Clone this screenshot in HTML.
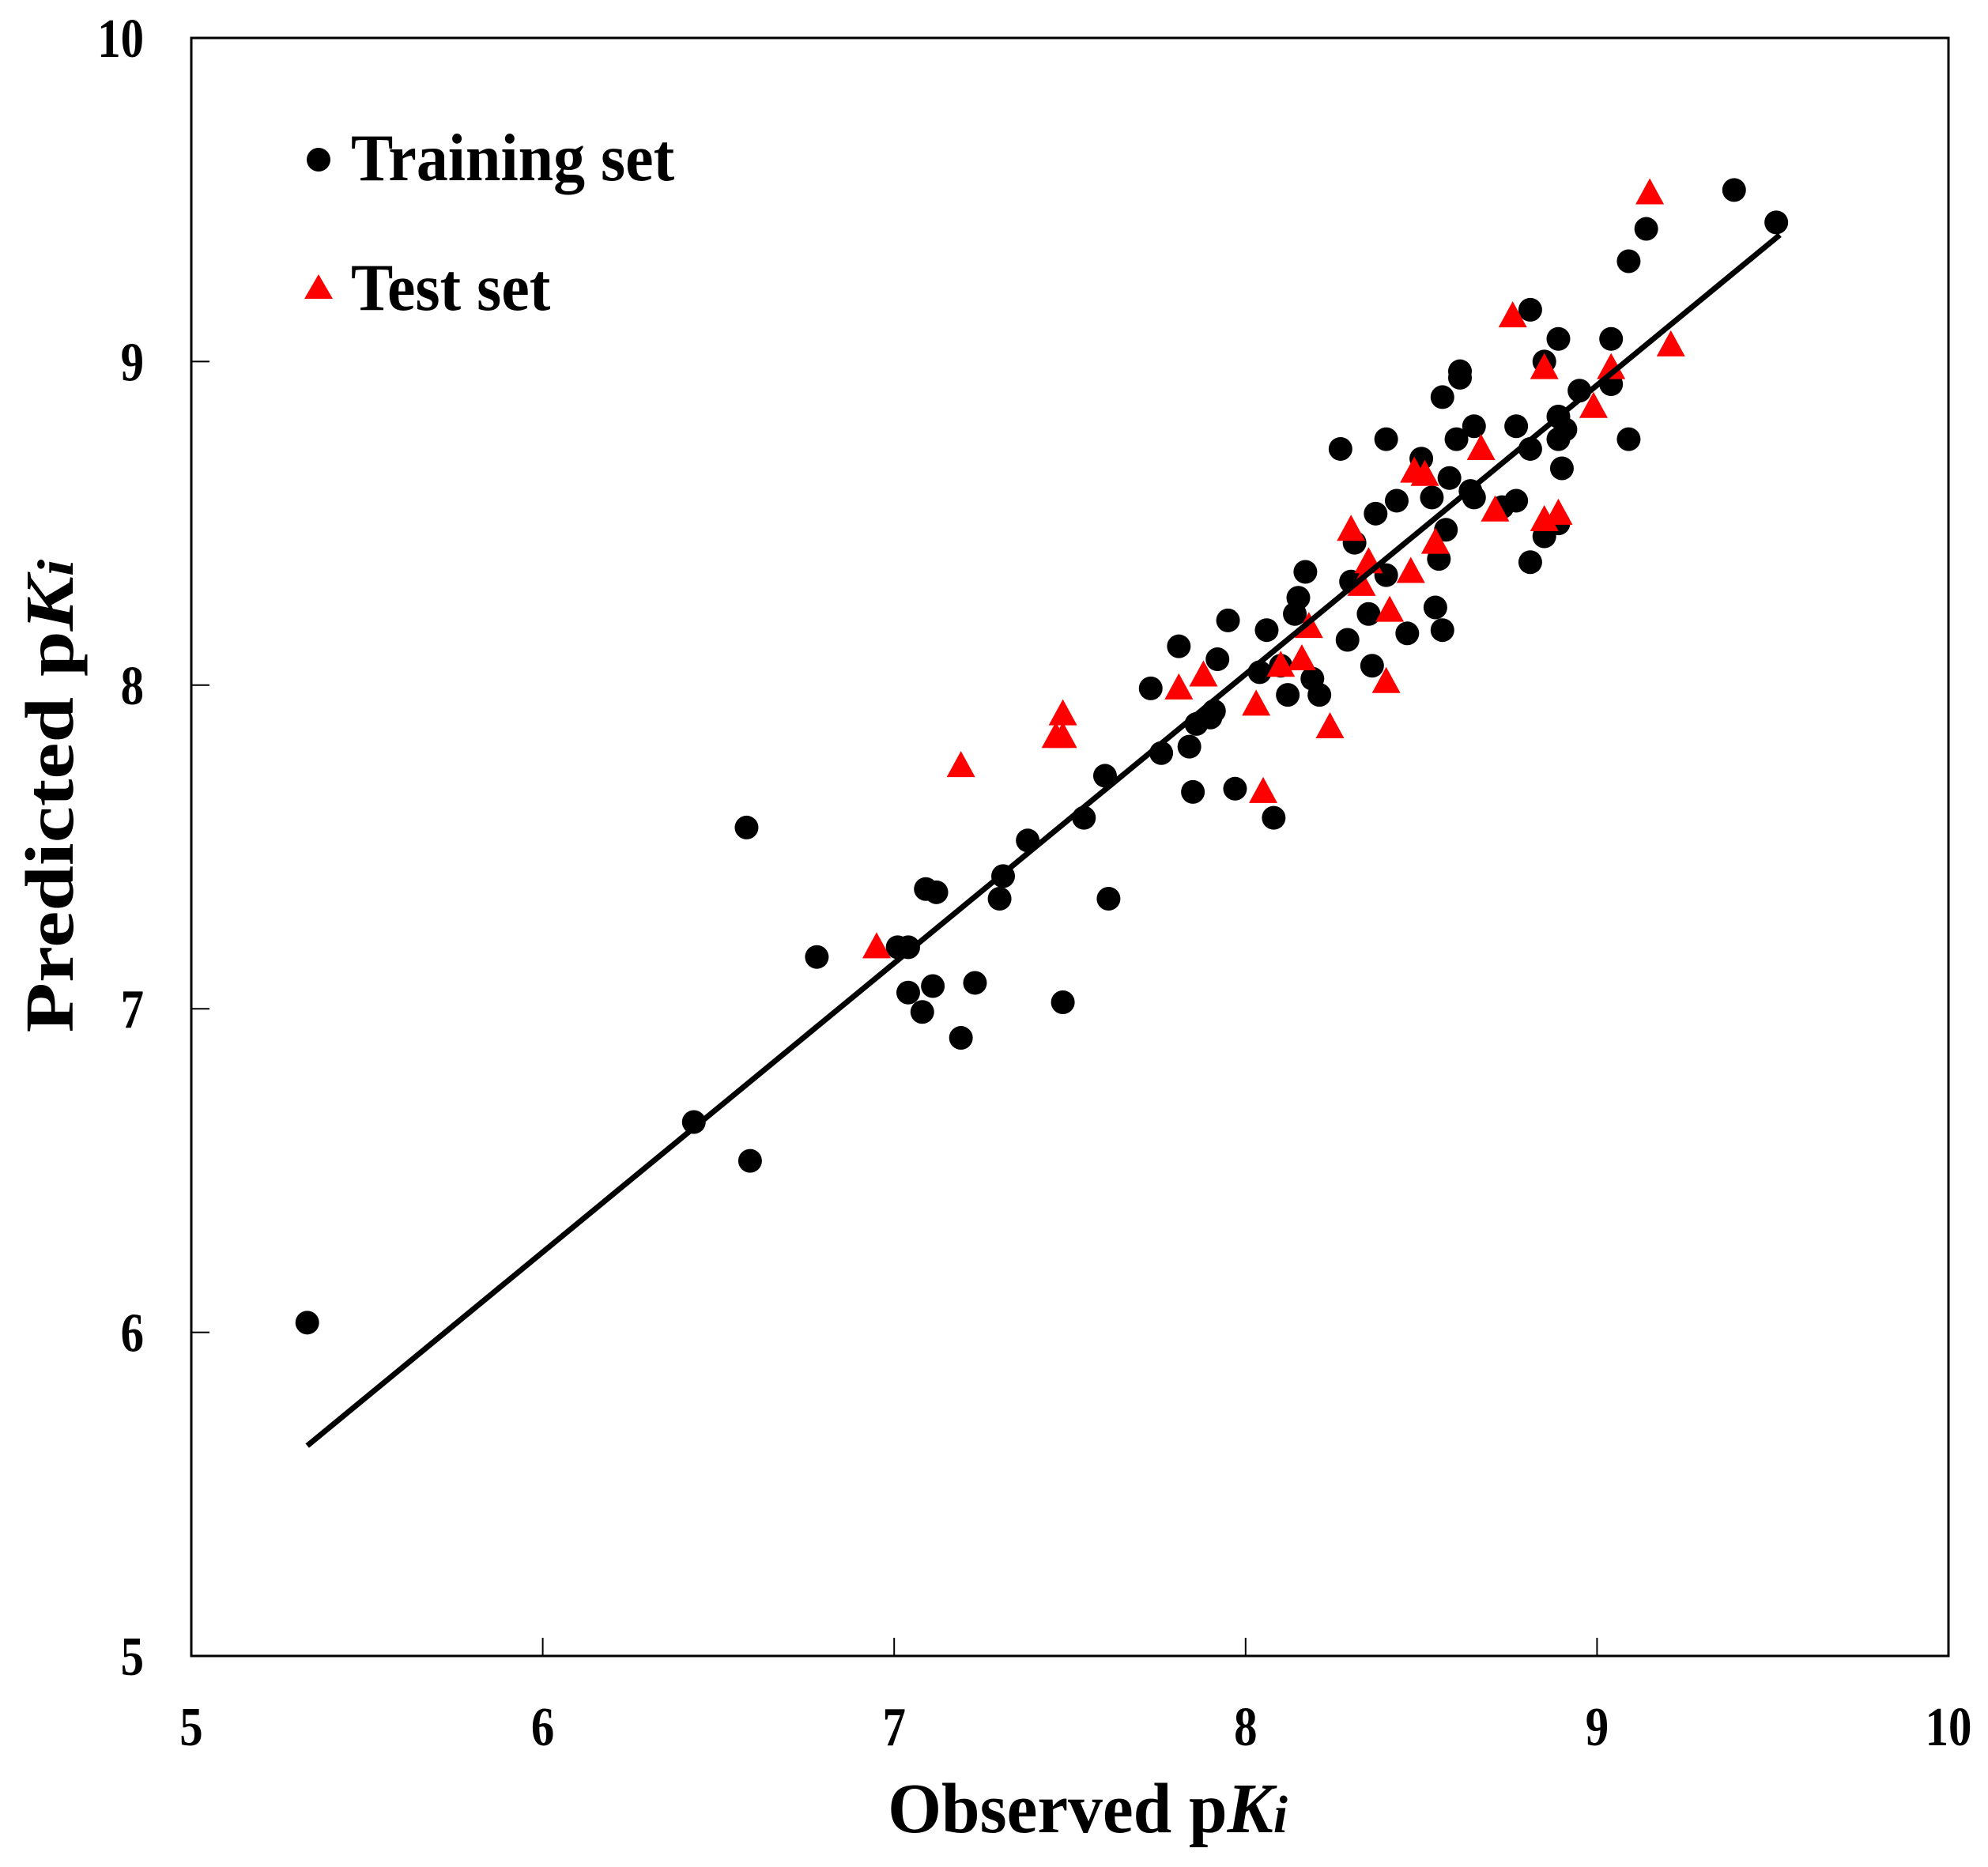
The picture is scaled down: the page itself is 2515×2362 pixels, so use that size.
<!DOCTYPE html>
<html><head><meta charset="utf-8">
<style>
html,body{margin:0;padding:0;background:#fff;}
svg{display:block;}
text{font-family:"Liberation Serif",serif;font-weight:bold;fill:#000;}
</style></head>
<body>
<svg id="chart" width="2515" height="2362" viewBox="0 0 2515 2362" xmlns="http://www.w3.org/2000/svg">
<g id="axes"></g>
<g id="marks"></g>
<g id="legend">
  <circle cx="403" cy="202" r="15" fill="#000"/>
  <text transform="translate(444,228) scale(1.08,1.15)" font-size="74">Training set</text>
  <polygon points="403,347 421,378 385,378" fill="#f00"/>
  <text transform="translate(444,392) scale(1.08,1.15)" font-size="74">Test set</text>
</g>
<text transform="translate(1376,2318) scale(1.12,1.15)" font-size="78" text-anchor="middle">Observed p<tspan font-style="italic">K</tspan><tspan font-style="italic" font-size="58">i</tspan></text>
<text transform="translate(92,1007) rotate(-90) scale(1.33,1.12)" font-size="78" text-anchor="middle">Predicted p<tspan font-style="italic">K</tspan><tspan font-style="italic" font-size="58">i</tspan></text>
</svg>
<script>
const xTicks = [5, 6, 7, 8, 9, 10];
const yTicks = [5, 6, 7, 8, 9, 10];
const trainX = [5.33,6.58,6.43,6.59,6.78,7.01,7.04,7.04,7.08,7.09,7.12,7.11,7.19,7.23,7.30,7.31,7.38,7.48,7.54,7.60,7.61,7.73,7.76,7.81,7.84,7.85,7.86,7.90,7.91,7.92,7.95,7.97,8.04,8.06,8.08,8.10,8.12,8.14,8.15,8.17,8.19,8.21,8.27,8.29,8.30,8.31,8.35,8.36,8.37,8.40,8.40,8.43,8.46,8.50,8.53,8.54,8.55,8.56,8.56,8.57,8.58,8.60,8.61,8.61,8.64,8.65,8.65,8.73,8.77,8.77,8.81,8.81,8.81,8.85,8.85,8.89,8.89,8.89,8.90,8.89,8.91,8.95,9.04,9.04,9.09,9.09,9.14,9.39,9.51];
const trainY = [6.03,7.56,6.65,6.53,7.16,7.19,7.19,7.05,6.99,7.37,7.36,7.07,6.91,7.08,7.34,7.41,7.52,7.02,7.59,7.72,7.34,7.99,7.79,8.12,7.81,7.67,7.88,7.90,7.92,8.08,8.20,7.68,8.04,8.17,7.59,8.06,7.97,8.22,8.27,8.35,8.02,7.97,8.73,8.14,8.32,8.44,8.22,8.06,8.53,8.76,8.34,8.57,8.16,8.70,8.58,8.24,8.39,8.89,8.17,8.48,8.64,8.76,8.97,8.95,8.60,8.80,8.58,8.55,8.80,8.57,9.16,8.73,8.38,9.00,8.46,8.50,9.07,8.83,8.67,8.76,8.79,8.91,8.93,9.07,8.76,9.31,9.41,9.53,9.43];
const testX = [6.95,7.19,7.46,7.48,7.48,7.81,7.88,8.03,8.05,8.10,8.16,8.18,8.24,8.30,8.33,8.35,8.40,8.41,8.47,8.48,8.51,8.54,8.67,8.71,8.76,8.85,8.85,8.89,8.99,9.04,9.15,9.21];
const testY = [7.19,7.75,7.84,7.91,7.84,7.99,8.03,7.94,7.67,8.06,8.08,8.18,7.87,8.48,8.31,8.38,8.01,8.23,8.35,8.66,8.65,8.44,8.73,8.54,9.14,8.98,8.51,8.53,8.86,8.98,9.52,9.05];
const fitRange = [5.33, 9.52];
const fitCoef = [0.893, 0.89];

const L=242,R=2465,T=48,B=2095;
function xs(v){return L+(v-5)/5*(R-L);}
function ys(v){return B-(v-5)/5*(B-T);}
const NS="http://www.w3.org/2000/svg";
function mk(tag,attrs,parent){const e=document.createElementNS(NS,tag);for(const k in attrs)e.setAttribute(k,attrs[k]);parent.appendChild(e);return e;}
const axes=document.getElementById('axes');
const marks=document.getElementById('marks');

let fr=mk('rect',{x:L,y:T,width:R-L,height:B-T,fill:'none',stroke:'#000','stroke-width':3},axes);



xTicks.forEach(t=>{
  const x=xs(t);
  if(t>5&&t<10){
    const tk=mk('line',{x1:x,y1:B,x2:x,y2:B-23,stroke:'#000','stroke-width':2},axes);
    
    
  }
  const lb=mk('text',{transform:`translate(${x},2208) scale(1.05,1.25)`,'font-size':56,'text-anchor':'middle'},axes);
  lb.textContent=t;
  
  
});
yTicks.forEach(t=>{
  const y=ys(t);
  if(t>5&&t<10){
    const tk=mk('line',{x1:L,y1:y,x2:L+23,y2:y,stroke:'#000','stroke-width':2},axes);
    
    
  }
  const lb=mk('text',{transform:`translate(182,${y+24}) scale(1.05,1.25)`,'font-size':56,'text-anchor':'end'},axes);
  lb.textContent=t;
  
  
});

trainX.forEach((v,i)=>{
  const c=mk('circle',{cx:xs(v),cy:ys(trainY[i]),r:15,fill:'#000'},marks);
  
  
});
testX.forEach((v,i)=>{
  const x=xs(v),y=ys(testY[i]);
  const p=mk('polygon',{points:`${x},${y-19} ${x+18},${y+14} ${x-18},${y+14}`,fill:'#f00'},marks);
  
  
});
const ln=mk('line',{x1:xs(fitRange[0]),y1:ys(fitCoef[0]*fitRange[0]+fitCoef[1]),x2:xs(fitRange[1]),y2:ys(fitCoef[0]*fitRange[1]+fitCoef[1]),stroke:'#000','stroke-width':7},marks);


</script>
</body></html>
